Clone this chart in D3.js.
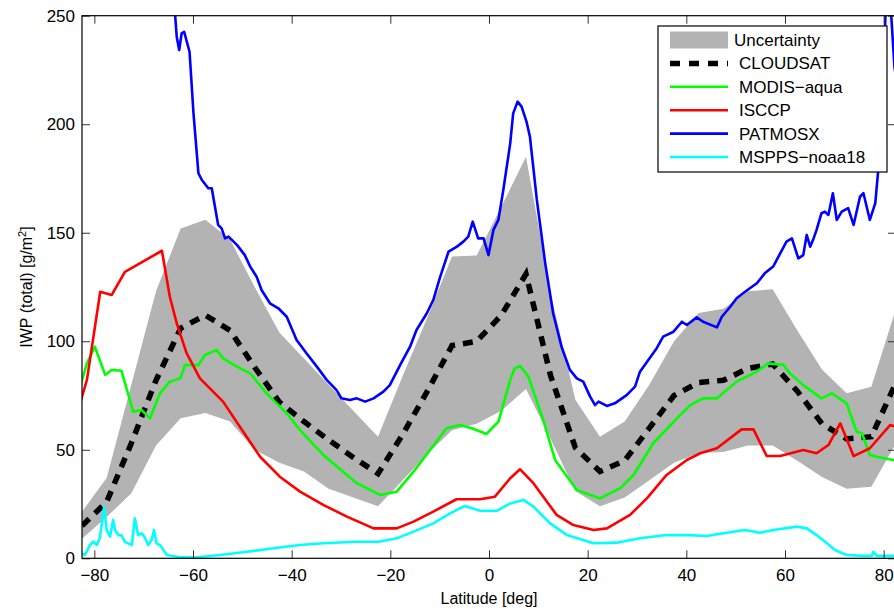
<!DOCTYPE html>
<html>
<head>
<meta charset="utf-8">
<script src="https://cdn.jsdelivr.net/npm/d3@7"></script>
<style>
  body { margin: 0; background: #fff; }
  svg text { font-family: "Liberation Sans", Arial, Helvetica, sans-serif; }
</style>
</head>
<body>
<div id="chart"></div>
<script>
// 5-degree latitude bins used by CLOUDSAT and its uncertainty band
const binLat = [-82.5, -77.5, -72.5, -67.5, -62.5, -57.5, -52.5, -47.5, -42.5, -37.5, -32.5, -27.5,
  -22.5, -17.5, -12.5, -7.5, -2.5, 2.5, 7.5, 12.5, 17.5, 22.5, 27.5, 32.5, 37.5, 42.5, 47.5,
  52.5, 57.5, 62.5, 67.5, 72.5, 77.5, 82.5]
const uncUpper = [21.5, 37, 80, 123, 152, 156, 147, 125, 104, 92, 80, 68,
  56, 84, 111, 139, 139.5, 162, 185, 122, 73, 56, 63, 80, 100, 113, 115,
  123, 124, 105, 87, 76, 79, 115]
const uncLower = [9, 19, 30, 52, 64.5, 67, 63, 50, 44, 40, 32, 28,
  24, 36, 48, 59, 62, 68, 78, 55, 31, 24, 28, 36, 44, 48.5, 49,
  52, 52, 45, 37.5, 32, 33, 53]
const cloudsat = [15, 26, 53, 82, 106, 112, 105, 88, 72, 63, 54.5, 46.5,
  39, 57, 77, 98, 100, 112, 131, 84, 51, 40, 45, 60, 75, 81, 82,
  87.5, 89.5, 77, 62, 55, 56, 81]

// [latitude, IWP]
const modis = [[-82.9, 79], [-81.5, 89.8], [-79.9, 97.5], [-77.8, 84.5], [-76.5, 86.8], [-74.5, 86.4],
  [-72.1, 67.5], [-70.4, 68.3], [-68.7, 64.5], [-66.7, 76], [-64.7, 81.4], [-62.6, 82.9], [-61.6, 89],
  [-58.9, 89], [-57.6, 93.7], [-55.2, 96], [-53.9, 92.1], [-51.1, 88.3], [-48.4, 85.2], [-45.1, 76],
  [-41, 66.8], [-38.3, 59.1], [-33.6, 47.6], [-26.8, 34.6], [-22.1, 29.2], [-18.7, 30.7], [-15.3, 39.9],
  [-8.6, 59.9], [-5.9, 61.4], [-3.5, 59.9], [-0.5, 57.3], [1.9, 62.9], [4.3, 82.2], [5.2, 87.5],
  [6.3, 88.6], [8.0, 83.7], [11.0, 63.7], [13.4, 45.3], [17.8, 31.5], [22.5, 27.6], [26.6, 32.3],
  [29.3, 38.4], [33.3, 53], [38.1, 64.5], [40.8, 70.6], [43.4, 73.7], [46.2, 73.7], [50.2, 81.4],
  [54.3, 86], [56.6, 89.8], [59.7, 89.1], [61.0, 85.2], [63.7, 79.8], [67.4, 73.7], [69.5, 76],
  [72.5, 71.4], [74.5, 58.3], [75.6, 57.6], [77.2, 47.6], [78.6, 46.8], [82.5, 45]]

const isccp = [[-82.9, 71.4], [-81.5, 82.2], [-78.8, 122.8], [-76.5, 121.3], [-73.8, 132], [-66.3, 141.7],
  [-64.7, 120.5], [-63.3, 108.3], [-61.3, 94.5], [-58.6, 82.9], [-53.9, 72.2], [-50.5, 60.6],
  [-46.4, 46.8], [-42.4, 37.6], [-38.3, 30.7], [-33.6, 24.6], [-28.8, 19.2], [-23.4, 13.8],
  [-18.7, 13.8], [-15.3, 16.9], [-11.3, 21.5], [-6.6, 27.2], [-1.8, 27.2], [1.2, 28.4], [4.3, 36.9],
  [6.3, 41], [9.0, 34.6], [13.7, 20], [17.1, 15.3], [21.2, 13], [23.9, 13.8], [28.6, 20], [32.0, 27.6],
  [36.0, 38.4], [40.1, 45.3], [42.8, 48.4], [46.2, 50.7], [51.2, 59.4], [53.6, 59.4], [56.3, 47.1],
  [59.0, 47.1], [63.7, 49.9], [66.4, 48.4], [68.8, 52.2], [71.2, 62.2], [73.9, 47.1], [77.2, 50.7],
  [81.3, 61.4], [82.5, 60.6]]

const patmosx = [[-65, 330], [-63.6, 249.6], [-63.3, 240.3], [-62.8, 234.2], [-62.3, 241.9], [-61.8, 242.6],
  [-60.7, 233.4], [-59.9, 205], [-58.9, 177.4], [-58.2, 174.3], [-56.9, 170.5], [-56.2, 170.5],
  [-54.9, 153.6], [-54.2, 152], [-53.5, 147.4], [-52.8, 148.2], [-51.1, 144.4], [-49.5, 139.7],
  [-48.4, 134.4], [-47.1, 129.7], [-46.1, 123.6], [-44.4, 117.5], [-42.7, 115.2], [-41.0, 111.3],
  [-39.0, 100.6], [-37.0, 94.5], [-34.9, 88.3], [-32.9, 82.2], [-30.9, 77.5], [-29.9, 73.7],
  [-28.2, 72.9], [-26.8, 73.7], [-25.1, 72.2], [-23.4, 73.7], [-21.4, 76.8], [-20.1, 79.8],
  [-18.0, 89.1], [-16.0, 97.5], [-14.7, 105.2], [-12.6, 112.9], [-11.3, 119], [-9.9, 129.7],
  [-8.2, 141.3], [-6.5, 143.6], [-5.2, 145.9], [-4.2, 148.2], [-3.3, 155.1], [-2.2, 147.4],
  [-1.1, 147.4], [-0.1, 139.7], [0.9, 151.3], [1.9, 155.9], [2.9, 169.7], [4.3, 191.2], [4.9, 205],
  [5.8, 210.4], [6.6, 208.1], [7.6, 201.2], [8.3, 194.2], [9.7, 165.1], [11.4, 135.9], [13.0, 112.9],
  [14.7, 97.5], [16.4, 86.8], [17.8, 82.9], [19.1, 81.4], [20.5, 74.5], [21.5, 70.6], [22.2, 72.2],
  [23.9, 70.2], [25.5, 71.4], [27.9, 75.2], [29.6, 79.1], [30.6, 86], [34.0, 96.8], [35.3, 102.1],
  [37.4, 104.4], [39.1, 109], [40.1, 107.5], [42.1, 111], [43.4, 109], [46.2, 106.4], [47.2, 111.3],
  [48.9, 115.9], [50.2, 119.8], [51.9, 122.8], [53.3, 125.1], [54.3, 126.7], [55.9, 131.3],
  [57.6, 134.4], [58.3, 137.4], [60.3, 145.9], [61.4, 147.4], [62.7, 138.2], [63.7, 139.7],
  [64.4, 149], [65.1, 143.6], [65.8, 147.4], [66.4, 151.3], [67.4, 159], [68.1, 159.7], [68.8, 158.2],
  [69.7, 168.2], [70.5, 155.9], [71.5, 159.7], [72.8, 161.3], [73.9, 153.6], [75.2, 166.6],
  [75.9, 168.2], [77.2, 155.9], [78.3, 163.6], [78.9, 178.9], [79.3, 188.1], [80.5, 258],
  [81.2, 262], [82.2, 226], [82.5, 222]]

const mspps = [[-82.9, 2.3], [-81.9, 1.5], [-80.9, 6.1], [-80.2, 7.6], [-79.5, 6.1], [-78.9, 9.2],
  [-78.0, 23.8], [-77.5, 13], [-76.8, 10], [-76.2, 17.6], [-75.8, 13], [-75.1, 10.7], [-74.5, 10.7],
  [-73.8, 7.6], [-72.4, 6.1], [-71.8, 18.4], [-71.1, 10.7], [-70.4, 11.5], [-69.7, 9.2], [-69.1, 6.1],
  [-68.4, 8.4], [-67.9, 13], [-67.4, 6.9], [-66.7, 6.1], [-65.3, 1.5], [-62.6, 0.5], [-59.2, 0.5],
  [-54.5, 1.5], [-49.1, 3], [-43.7, 4.6], [-38.3, 6.1], [-33.6, 6.9], [-26.8, 7.6], [-22.4, 7.6],
  [-18.7, 9.2], [-15.3, 12.3], [-11.3, 16.1], [-7.9, 20.7], [-4.9, 24.1], [-1.8, 21.9], [1.6, 21.9],
  [4.3, 25.3], [7.0, 26.9], [9.0, 23.8], [12.4, 16.1], [15.8, 10.7], [21.2, 6.9], [25.9, 7.2],
  [30.6, 9.2], [36.0, 10.7], [40.8, 10.7], [44.1, 10.3], [47.5, 11.5], [51.9, 13], [54.9, 11.8],
  [57.6, 13], [62.4, 14.6], [64.4, 13.8], [66.4, 10.7], [68.5, 6.9], [70.1, 3.8], [72.5, 1.5],
  [75.9, 1.1], [77.6, 1.1], [77.9, 3], [78.6, 1.1], [82.5, 1.1]]

const xTicks = [-80, -60, -40, -20, 0, 20, 40, 60, 80]
const yTicks = [0, 50, 100, 150, 200, 250]
const legendNames = ['Uncertainty', 'CLOUDSAT', 'MODIS\u2212aqua', 'ISCCP', 'PATMOSX', 'MSPPS\u2212noaa18']

const W = 894, H = 609
const pL = 82, pR = 896, pT = 15.7, pB = 558.3

const svg = d3.select('#chart').append('svg')
  .attr('width', W).attr('height', H)

const x = d3.scaleLinear().domain([-82.5, 82.5]).range([pL, pR])
const y = d3.scaleLinear().domain([0, 250]).range([pB, pT])

svg.append('defs').append('clipPath').attr('id', 'plot')
  .append('rect')
  .attr('x', pL).attr('y', pT)
  .attr('width', pR - pL).attr('height', pB - pT)

const g = svg.append('g').attr('clip-path', 'url(#plot)')

// uncertainty band
const band = binLat.map((d, i) => ({ lat: d, lo: uncLower[i], hi: uncUpper[i] }))
g.append('path')
  .attr('d', d3.area().x(d => x(d.lat)).y0(d => y(d.lo)).y1(d => y(d.hi))(band))
  .attr('fill', '#b3b3b3')

const line = d3.line().x(d => x(d[0])).y(d => y(d[1]))

g.append('path')
  .attr('d', line(binLat.map((d, i) => [d, cloudsat[i]])))
  .attr('fill', 'none').attr('stroke', '#000')
  .attr('stroke-width', 5.5).attr('stroke-dasharray', '10,8')

const series = [
  { data: modis, color: '#00ff00' },
  { data: isccp, color: '#ff0000' },
  { data: patmosx, color: '#0000ff' },
  { data: mspps, color: '#00ffff' }
]
series.forEach(s => {
  g.append('path')
    .attr('d', line(s.data))
    .attr('fill', 'none')
    .attr('stroke', s.color)
    .attr('stroke-width', 2.6)
    .attr('stroke-linejoin', 'round')
})

// axes, ticks pointing inward on all sides
const fmt = d3.format('')
const xb = svg.append('g').attr('transform', `translate(0,${pB})`)
  .call(d3.axisBottom(x).tickValues(xTicks).tickSizeInner(-8).tickSizeOuter(0).tickPadding(11).tickFormat(fmt))
const xt = svg.append('g').attr('transform', `translate(0,${pT})`)
  .call(d3.axisTop(x).tickValues(xTicks).tickSizeInner(-8).tickSizeOuter(0).tickFormat(''))
const yl = svg.append('g').attr('transform', `translate(${pL},0)`)
  .call(d3.axisLeft(y).tickValues(yTicks).tickSizeInner(-8).tickSizeOuter(0).tickPadding(7).tickFormat(fmt))
const yr = svg.append('g').attr('transform', `translate(${pR},0)`)
  .call(d3.axisRight(y).tickValues(yTicks).tickSizeInner(-8).tickSizeOuter(0).tickFormat(''))

;[xb, xt, yl, yr].forEach(a => {
  a.select('.domain').remove()
  a.selectAll('line').attr('stroke', '#333').attr('stroke-width', 1)
  a.selectAll('text').attr('font-size', 17).attr('fill', '#000')
    .attr('font-family', '"Liberation Sans", Arial, sans-serif')
})

svg.append('rect')
  .attr('x', pL).attr('y', pT)
  .attr('width', pR - pL).attr('height', pB - pT)
  .attr('fill', 'none').attr('stroke', '#000').attr('stroke-width', 1.2)

// axis labels
svg.append('text')
  .attr('x', (pL + pR) / 2).attr('y', 604)
  .attr('text-anchor', 'middle').attr('font-size', 16)
  .text('Latitude [deg]')

const ylab = svg.append('text')
  .attr('transform', `translate(32,${(pT + pB) / 2}) rotate(-90)`)
  .attr('text-anchor', 'middle').attr('font-size', 16)
ylab.append('tspan').text('IWP (total) [g/m')
ylab.append('tspan').attr('font-size', 11).attr('dy', -6).text('2')
ylab.append('tspan').attr('dy', 6).text(']')

// legend
const lg = svg.append('g')
lg.append('rect')
  .attr('x', 658).attr('y', 26).attr('width', 229).attr('height', 146)
  .attr('fill', '#fff').attr('stroke', '#000').attr('stroke-width', 1.2)

const rowY = i => 40 + i * 23.4
lg.append('rect').attr('x', 670).attr('y', rowY(0) - 8.5).attr('width', 58).attr('height', 17).attr('fill', '#b3b3b3')
lg.append('line').attr('x1', 670).attr('x2', 728).attr('y1', rowY(1)).attr('y2', rowY(1))
  .attr('stroke', '#000').attr('stroke-width', 5.5).attr('stroke-dasharray', '10,9')
series.forEach((s, i) => {
  lg.append('line').attr('x1', 670).attr('x2', 728).attr('y1', rowY(i + 2)).attr('y2', rowY(i + 2))
    .attr('stroke', s.color).attr('stroke-width', 2.6)
})
legendNames.forEach((n, i) => {
  lg.append('text')
    .attr('x', i === 0 ? 734 : 739).attr('y', rowY(i) + 6)
    .attr('font-size', 17).text(n)
})
</script>
</body>
</html>
